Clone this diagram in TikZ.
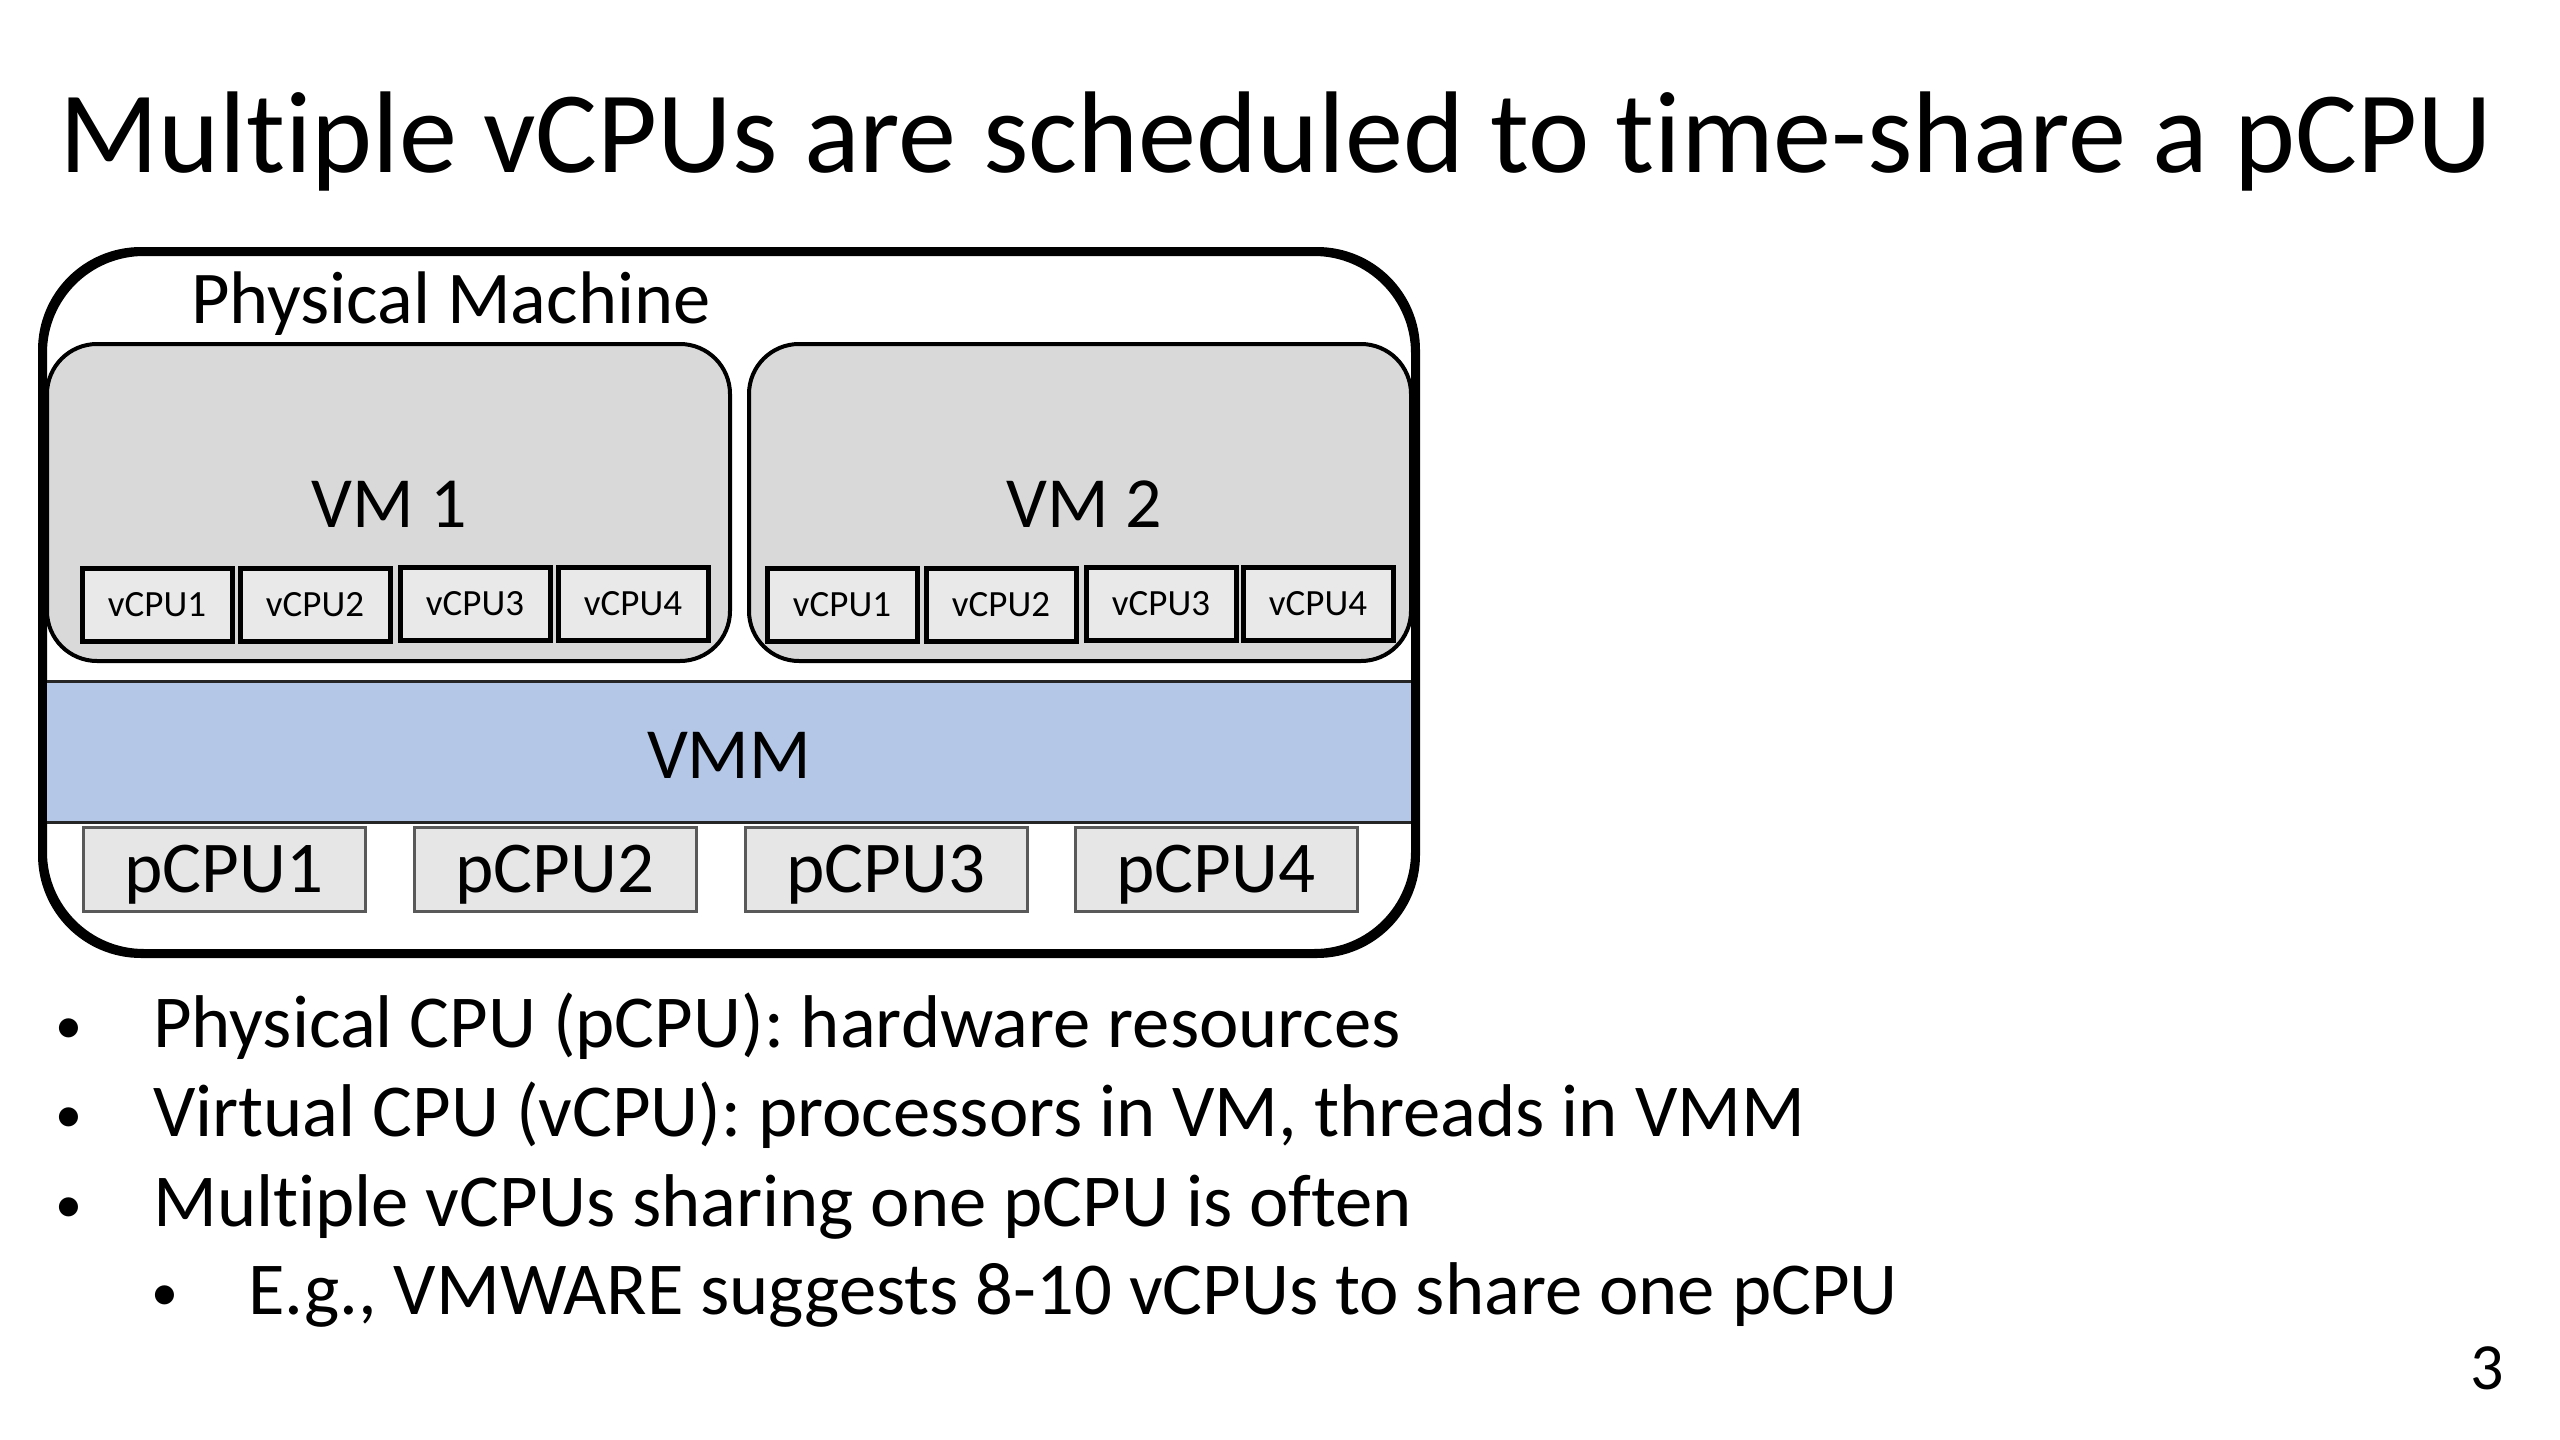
\documentclass[tikz,border=0pt]{standalone}
\usepackage{fontspec}
\setmainfont{Carlito}[Ligatures=NoCommon]
\definecolor{vmgray}{HTML}{D9D9D9}
\definecolor{cpugray}{HTML}{E9E9E9}
\definecolor{pcpugray}{HTML}{E7E6E6}
\definecolor{vmmblue}{HTML}{B4C7E7}
\definecolor{pborder}{HTML}{595959}
\begin{document}
\begin{tikzpicture}[x=1pt,y=-1pt,
  txt/.style={inner sep=0pt, anchor=base west},
  pmbox/.style={draw=black, line width=6pt, rounded corners=100pt, fill=white,
    minimum width=1370pt, minimum height=699pt, inner sep=0pt},
  vmbox/.style={draw=black, line width=4pt, rounded corners=50pt, fill=vmgray,
    minimum width=683pt, minimum height=317pt, inner sep=0pt},
  vcpubox/.style={draw=black, line width=5pt, fill=cpugray,
    minimum width=150pt, minimum height=73pt, inner sep=0pt,
    font=\fontsize{37}{44}\selectfont},
  pcpubox/.style={draw=pborder, line width=3pt, fill=pcpugray,
    minimum width=282pt, minimum height=84pt, inner sep=0pt},
  pcputxt/.style={inner sep=0pt, anchor=base, font=\fontsize{73}{88}\selectfont},
  bigfont/.style={font=\fontsize{72}{86}\selectfont},
  bodyfont/.style={font=\fontsize{74.7}{90}\selectfont},
  bulletdot/.style={inner sep=0pt, anchor=base, font=\fontsize{54}{64}\selectfont}
]
\useasboundingbox (0,0) rectangle (2560,1440);
\fill[white] (0,0) rectangle (2560,1440);

% title
\node[txt, font=\fontsize{116.2}{139}\selectfont] (title) at (59,172)
  {Multiple vCPUs are scheduled to time-share a pCPU};

% physical machine
\node[pmbox] (pm) at (729,602.5) {};
\node[txt, font=\fontsize{74.5}{89}\selectfont] (pmlabel) at (191,323) {Physical Machine};

% VMs
\node[vmbox] (vm1) at (388.5,502.5) {};
\node[vmbox, minimum width=662pt] (vm2) at (1080,502.5) {};
\node[inner sep=0pt, anchor=base, bigfont] (vm1label) at (389,527) {VM 1};
\node[inner sep=0pt, anchor=base, bigfont] (vm2label) at (1084,527) {VM 2};

% vCPUs
\node[vcpubox] (v11) at (157,605) {vCPU1};
\node[vcpubox] (v12) at (315,605) {vCPU2};
\node[vcpubox] (v13) at (475,604) {vCPU3};
\node[vcpubox] (v14) at (633,604) {vCPU4};
\node[vcpubox] (v21) at (842,605) {vCPU1};
\node[vcpubox] (v22) at (1001,605) {vCPU2};
\node[vcpubox] (v23) at (1161,604) {vCPU3};
\node[vcpubox] (v24) at (1318,604) {vCPU4};

% VMM
\node[fill=vmmblue, minimum width=1364pt, minimum height=140pt, inner sep=0pt] (vmm) at (729,752) {};
\draw[line width=3pt, black!85] (vmm.north west) -- (vmm.north east);
\draw[line width=3pt, black!85] (vmm.south west) -- (vmm.south east);
\node[inner sep=0pt, anchor=base, bigfont] (vmmlabel) at (729,778) {VMM};

% pCPUs
\node[pcpubox] (p1) at (224,869) {};
\node[pcpubox] (p2) at (555,869) {};
\node[pcpubox] (p3) at (886,869) {};
\node[pcpubox] (p4) at (1216,869) {};
\node[pcputxt] (p1t) at (p1.center |- 0,892) {pCPU1};
\node[pcputxt] (p2t) at (p2.center |- 0,892) {pCPU2};
\node[pcputxt] (p3t) at (p3.center |- 0,892) {pCPU3};
\node[pcputxt] (p4t) at (p4.center |- 0,892) {pCPU4};

% redraw outer border on top
\draw[line width=6pt, rounded corners=100pt] (pm.north west) rectangle (pm.south east);

% bullets
\node[bulletdot] (b1) at (69,1043) {•};
\node[txt, bodyfont] (t1) at (153,1047) {Physical CPU (pCPU): hardware resources};
\node[bulletdot] (b2) at (69,1132) {•};
\node[txt, bodyfont] (t2) at (153,1136) {Virtual CPU (vCPU): processors in VM, threads in VMM};
\node[bulletdot] (b3) at (69,1222) {•};
\node[txt, bodyfont] (t3) at (153,1226) {Multiple vCPUs sharing one pCPU is often};
\node[bulletdot] (b4) at (165,1310) {•};
\node[txt, bodyfont] (t4) at (248,1314) {E.g., VMWARE suggests 8-10 vCPUs to share one pCPU};

% page number
\node[inner sep=0pt, anchor=base east, font=\fontsize{66}{79}\selectfont] (pagenum) at (2504,1389) {3};
\end{tikzpicture}
\end{document}
